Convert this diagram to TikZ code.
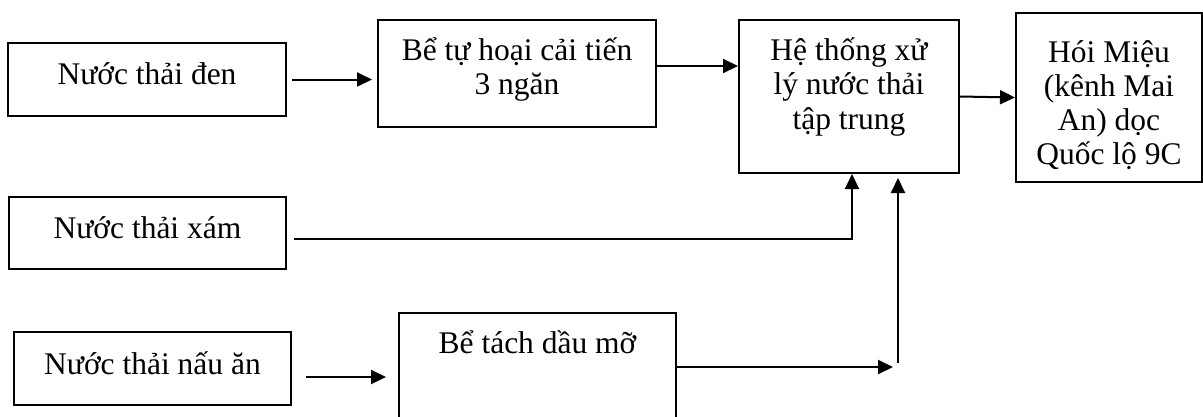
\documentclass[tikz,border=0pt]{standalone}
\usepackage{fontspec}
\setmainfont{Liberation Serif}
\usetikzlibrary{arrows.meta}
\begin{document}
\begin{tikzpicture}[x=1pt,y=-1pt,
  box/.style={draw, line width=2pt, inner sep=0pt, rectangle},
  txt/.style={anchor=base, inner sep=0pt, font=\fontsize{31.5}{34.5}\selectfont},
  arr/.style={line width=2pt, -{Triangle[length=15pt,width=14pt]}}]
\useasboundingbox (0,0) rectangle (1203,416);
\begin{scope}
\clip (0,0) rectangle (1203,416);
% boxes
\node[box, minimum width=278pt, minimum height=73pt]  (A) at (147,79.5) {};
\node[box, minimum width=278pt, minimum height=107pt] (B) at (517,73.5) {};
\node[box, minimum width=220pt, minimum height=153pt] (C) at (849,96.5) {};
\node[box, minimum width=186pt, minimum height=169pt] (H) at (1109,97.5) {};
\node[box, minimum width=277pt, minimum height=72pt]  (X) at (147.5,233) {};
\node[box, minimum width=277pt, minimum height=73pt]  (N) at (152.5,368.5) {};
\node[box, minimum width=277pt, minimum height=127pt] (T) at (537.5,376.5) {};
% texts
\node[txt] (tA) at (147,84) {Nước thải đen};
\node[txt] (tB) at (517,60) {\parbox[t]{300pt}{\centering Bể tự hoại cải tiến\\3 ngăn}};
\node[txt] (tC) at (849,60) {\parbox[t]{240pt}{\centering Hệ thống xử\\lý nước thải\\tập trung}};
\node[txt] (tH) at (1109,62) {\parbox[t]{220pt}{\centering\fontsize{31.5}{34}\selectfont Hói Miệu\\(kênh Mai\\An) dọc\\Quốc lộ 9C}};
\node[txt] (tX) at (147.5,238) {Nước thải xám};
\node[txt] (tN) at (152.5,374) {Nước thải nấu ăn};
\node[txt] (tT) at (537.5,353) {Bể tách dầu mỡ};
% helper coordinates
\coordinate (bOut) at ([yshift=7.5pt]B.east);
\coordinate (xOut) at ([xshift=7pt,yshift=-6pt]X.east);
\coordinate (xIn)  at ([xshift=3pt]C.south);
\coordinate (nOut) at ([xshift=14pt,yshift=-8.5pt]N.east);
\coordinate (tOut) at ([yshift=-55pt]T.north east);
\coordinate (tEnd) at ([xshift=216pt]tOut);
\coordinate (jn)   at ([xshift=5pt,yshift=4pt]tEnd);
% connectors
\draw[arr, shorten <=5pt, shorten >=5pt] (A.east) -- (A.east -| B.west);
\draw[arr] (bOut) -- (bOut -| C.west);
\draw[arr] (C.east) -- (H.west);
\draw[arr] (xOut) -| (xIn);
\draw[arr, shorten >=12pt] (nOut) -- (nOut -| T.west);
\draw[arr] (tOut) -- (tEnd);
\draw[arr, shorten >=4pt] (jn) -- (jn |- C.south);
\end{scope}
\end{tikzpicture}
\end{document}
